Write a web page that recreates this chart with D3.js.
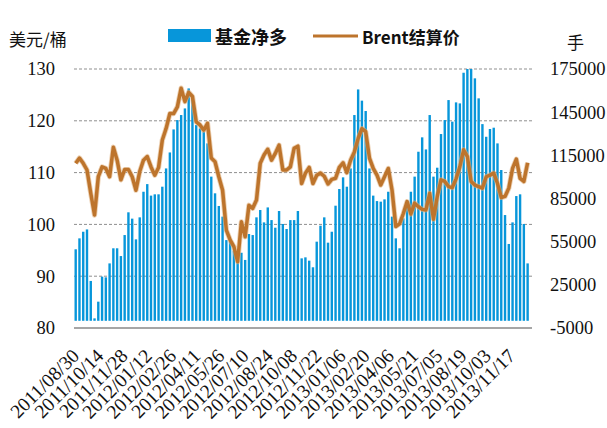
<!DOCTYPE html>
<html><head><meta charset="utf-8">
<script src="https://cdn.jsdelivr.net/npm/d3@7"></script>
<style>body{margin:0;background:#fff}svg{display:block}</style>
</head><body><svg id="c" width="607" height="428"></svg>
<script>
// ---- data (weekly, starting 2011/08/30) ----
const startDate = "2011-08-30";
const netLong = [49700,57300,61900,63500,27700,1700,13300,30700,30200,39900,
50400,50400,45000,59600,75400,71000,56600,71900,89700,95000,
87000,87900,87900,93200,105900,117000,133000,139500,143000,147600,
161500,155700,136000,133700,131400,123300,100200,88600,79800,72400,
56100,55000,48700,44600,47300,42300,60300,59600,71900,77000,
68400,78800,70000,64700,76300,67300,63800,70000,70000,76300,
43400,44100,41800,37200,55000,66100,71900,54300,61900,80000,
91600,99700,93200,105900,143000,160800,153000,145800,105900,87000,
83200,82800,84400,89700,72400,57300,50400,71200,83900,89700,
100200,117500,127500,119100,143000,100200,106400,129800,139500,153400,
138400,151800,151100,172400,175000,175000,168500,154600,136700,127900,
133300,134200,123300,104800,73500,53400,68400,86700,87900,67300,
39900];
const brent = [111.8,112.8,111.8,110.5,106.0,101.8,109.2,111.1,110.8,109.2,
114.9,112.4,108.6,110.6,110.6,109.2,106.6,110.2,112.4,113.1,
111.1,109.5,111.0,116.3,118.5,121.4,121.4,122.7,126.3,123.7,
125.5,124.7,119.8,119.2,118.2,119.5,112.8,112.1,109.2,106.6,
98.9,97.0,95.7,92.8,100.5,97.6,103.7,103.1,104.7,111.8,
113.4,114.5,112.4,113.7,115.3,110.5,110.5,111.1,114.7,115.1,
107.9,109.9,111.0,107.9,109.5,109.9,109.3,107.8,108.7,108.9,
111.0,111.9,110.0,112.4,114.0,116.6,118.5,117.9,112.8,110.8,
109.5,107.6,109.2,110.8,106.6,99.6,100.1,102.1,104.4,102.0,
104.1,103.4,102.9,102.8,106.0,101.0,105.4,108.6,108.3,107.3,
107.1,108.8,111.1,114.4,113.1,108.3,107.6,107.3,107.0,109.2,
109.5,109.9,107.9,105.2,105.4,107.0,110.8,112.6,108.9,108.3,
111.9];
const xTickLabels = ["2011/08/30","2011/10/14","2011/11/28","2012/01/12","2012/02/26",
"2012/04/11","2012/05/26","2012/07/10","2012/08/24","2012/10/08","2012/11/22",
"2013/01/06","2013/02/20","2013/04/06","2013/05/21","2013/07/05","2013/08/19",
"2013/10/03","2013/11/17"];
const leftTicks = [80,90,100,110,120,130];
const rightTicks = [-5000,25000,55000,85000,115000,145000,175000];
const seriesNames = ["基金净多","Brent结算价"];
const leftUnit = "美元/桶", rightUnit = "手";

// ---- drawing ----
const parse = d3.timeParse("%Y-%m-%d");
const parseTick = d3.timeParse("%Y/%m/%d");
const t0 = parse(startDate);
const dates = netLong.map((_, i) => d3.timeDay.offset(t0, 7 * i));

const svg = d3.select("#c");
const L = 74, R = 532, T = 69, B = 328;
const x = d3.scaleTime().domain([t0, parse("2013-12-27")]).range([74.5, 531.8]);
const yL = d3.scaleLinear().domain([80, 130]).range([B, T]);
const yR = d3.scaleLinear().domain([-5000, 175000]).range([B, T]);
const bw = 2.4;

// gridlines
svg.append("g").selectAll("line").data(leftTicks.filter(d => d > 80)).join("line")
  .attr("x1", L).attr("x2", R).attr("y1", d => yL(d)).attr("y2", d => yL(d))
  .attr("stroke", "#8f8f8f").attr("stroke-width", 1).attr("stroke-dasharray", "3,2");

// bars
svg.append("g").selectAll("rect").data(netLong).join("rect")
  .attr("x", (d, i) => x(dates[i]))
  .attr("width", bw)
  .attr("y", d => Math.min(yR(d), yR(0)))
  .attr("height", d => Math.abs(yR(0) - yR(d)))
  .attr("fill", "#0796da");

// line
const line = d3.line().x((d, i) => x(dates[i]) + bw / 2).y(d => yL(d)).curve(d3.curveLinear);
svg.append("path").datum(brent).attr("d", line).attr("fill", "none")
  .attr("stroke", "#e0b07e").attr("stroke-width", 5.2).attr("stroke-linejoin", "round").attr("opacity", 0.6);
svg.append("path").datum(brent).attr("d", line).attr("fill", "none")
  .attr("stroke", "#bd742c").attr("stroke-width", 3.5).attr("stroke-linejoin", "round");

// x axis line
svg.append("line").attr("x1", L).attr("x2", R).attr("y1", B).attr("y2", B)
  .attr("stroke", "#a6a6a6").attr("stroke-width", 2);

// left axis labels
const serif = "'Liberation Serif','Times New Roman',serif";
svg.append("g").selectAll("text").data(leftTicks).join("text")
  .attr("x", 55).attr("y", d => yL(d)).attr("dy", "0.35em")
  .attr("text-anchor", "end").attr("font-family", serif).attr("font-size", 18.5).attr("fill", "#111")
  .text(d => d);
// right axis labels
svg.append("g").selectAll("text").data(rightTicks).join("text")
  .attr("x", 550).attr("y", d => yR(d)).attr("dy", "0.35em")
  .attr("text-anchor", "start").attr("font-family", serif).attr("font-size", 18.5).attr("fill", "#111")
  .text(d => d);
// x labels
svg.append("g").selectAll("text").data(xTickLabels).join("text")
  .attr("transform", d => `translate(${x(parseTick(d)) + 6},357) rotate(-45)`)
  .attr("text-anchor", "end").attr("font-family", serif).attr("font-size", 19.5).attr("fill", "#111")
  .text(d => d);

// units
const cjk = "'Noto Sans CJK SC','Noto Sans',sans-serif";
svg.append("text").attr("x", 9).attr("y", 40).attr("dy", "0.35em").attr("font-family", cjk)
  .attr("font-size", 17).attr("fill", "#111").text(leftUnit);
svg.append("text").attr("x", 567).attr("y", 43).attr("dy", "0.35em").attr("font-family", cjk)
  .attr("font-size", 17).attr("fill", "#111").text(rightUnit);

// legend
svg.append("rect").attr("x", 168).attr("y", 29).attr("width", 43).attr("height", 13).attr("fill", "#0796da");
svg.append("text").attr("x", 215).attr("y", 38).attr("dy", "0.35em").attr("font-family", cjk)
  .attr("font-weight", "bold").attr("font-size", 18).attr("fill", "#111").text(seriesNames[0]);
svg.append("line").attr("x1", 313).attr("x2", 358).attr("y1", 36).attr("y2", 36)
  .attr("stroke", "#bd742c").attr("stroke-width", 3);
svg.append("text").attr("x", 362).attr("y", 38).attr("dy", "0.35em").attr("font-family", cjk)
  .attr("font-weight", "bold").attr("font-size", 17).attr("fill", "#111").text(seriesNames[1]);
</script></body></html>
